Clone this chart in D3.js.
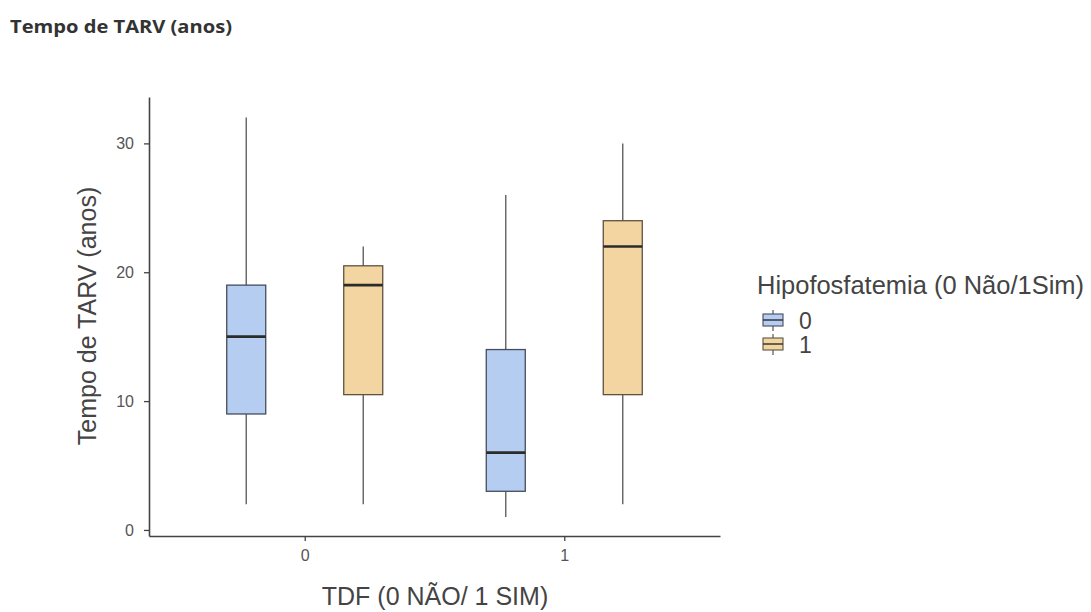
<!DOCTYPE html>
<html>
<head>
<meta charset="utf-8">
<script src="https://cdn.jsdelivr.net/npm/d3@7"></script>
<style>
  body { margin: 0; background: #fff; }
  svg { display: block; }
</style>
</head>
<body>
<svg id="chart" width="1091" height="612"></svg>
<script>
const tdfGroups = ['0', '1'];
const hipoLevels = ['0', '1'];
// [tdf, hipo, whiskerLow, q1, median, q3, whiskerHigh]
const boxStats = [
    ['0', '0', 2, 9, 15, 19, 32],
    ['0', '1', 2, 10.5, 19, 20.5, 22],
    ['1', '0', 1, 3, 6, 14, 26],
    ['1', '1', 2, 10.5, 22, 24, 30]
];
const yTicks = [0, 10, 20, 30];

const svg = d3.select('#chart');
const plotLeft = 149, plotRight = 720, plotTop = 97, plotBottom = 536;
const font = 'Liberation Sans, Arial, sans-serif';

const fill = d3.scaleOrdinal().domain(hipoLevels).range(['#b4cdf1', '#f2d5a0']);
const stroke = d3.scaleOrdinal().domain(hipoLevels).range(['#454c5c', '#5e5340']);

const x = d3.scalePoint().domain(tdfGroups).range([plotLeft, plotRight]).padding(0.6);
const dodge = d3.scalePoint().domain(hipoLevels).range([-58.5, 58.5]);
const bw = 39;
const y = d3.scaleLinear().domain([-0.47, 33.6]).range([plotBottom, plotTop]);

svg.append('text')
    .attr('x', 10).attr('y', 33)
    .attr('font-family', 'Open Sans, Noto Sans, sans-serif')
    .attr('font-weight', 'bold')
    .attr('font-size', 18)
    .attr('textLength', 222).attr('lengthAdjust', 'spacingAndGlyphs')
    .attr('fill', '#333')
    .text('Tempo de TARV (anos)');

// axes
const yAxis = svg.append('g')
    .attr('transform', `translate(${plotLeft},0)`)
    .call(d3.axisLeft(y).tickValues(yTicks).tickSize(5).tickPadding(10).tickSizeOuter(0));
const xAxis = svg.append('g')
    .attr('transform', `translate(0,${plotBottom})`)
    .call(d3.axisBottom(x).tickSize(5).tickPadding(9).tickSizeOuter(0));
[yAxis, xAxis].forEach(g => {
    g.select('.domain').attr('stroke', '#444').attr('stroke-width', 1.6);
    g.selectAll('.tick line').attr('stroke', '#444').attr('stroke-width', 1.3);
    g.selectAll('.tick text')
        .attr('font-family', font)
        .attr('font-size', 16).attr('fill', '#555');
});

svg.append('text')
    .attr('transform', `translate(96,${316}) rotate(-90)`)
    .attr('text-anchor', 'middle')
    .attr('font-family', font)
    .attr('font-size', 25).attr('fill', '#444')
    .text('Tempo de TARV (anos)');

svg.append('text')
    .attr('x', 435).attr('y', 605)
    .attr('text-anchor', 'middle')
    .attr('font-family', font)
    .attr('font-size', 25).attr('fill', '#444')
    .text('TDF (0 NÃO/ 1 SIM)');

// boxes
const boxes = svg.append('g').selectAll('g')
    .data(boxStats)
    .join('g')
    .attr('transform', d => `translate(${x(d[0]) + dodge(d[1])},0)`);

boxes.append('line')
    .attr('x1', 0).attr('x2', 0)
    .attr('y1', d => y(d[2])).attr('y2', d => y(d[6]))
    .attr('stroke', '#555').attr('stroke-width', 1.3);
boxes.append('rect')
    .attr('x', -bw / 2).attr('width', bw)
    .attr('y', d => y(d[5])).attr('height', d => y(d[3]) - y(d[5]))
    .attr('fill', d => fill(d[1]))
    .attr('stroke', d => stroke(d[1])).attr('stroke-width', 1.3);
boxes.append('line')
    .attr('x1', -bw / 2).attr('x2', bw / 2)
    .attr('y1', d => y(d[4])).attr('y2', d => y(d[4]))
    .attr('stroke', '#2b2b2b').attr('stroke-width', 2.6);

// legend
const legend = svg.append('g').attr('transform', 'translate(757,0)');
legend.append('text')
    .attr('x', 0).attr('y', 294)
    .attr('font-family', font)
    .attr('font-size', 25).attr('fill', '#444')
    .attr('textLength', 327).attr('lengthAdjust', 'spacingAndGlyphs')
    .text('Hipofosfatemia (0 Não/1Sim)');
const keys = legend.selectAll('g.key')
    .data(hipoLevels)
    .join('g')
    .attr('class', 'key')
    .attr('transform', (d, i) => `translate(6,${320 + i * 24})`);
keys.append('line')
    .attr('x1', 10).attr('x2', 10).attr('y1', -10).attr('y2', 11)
    .attr('stroke', '#555').attr('stroke-width', 1.2);
keys.append('rect')
    .attr('x', 0).attr('y', -6).attr('width', 20).attr('height', 12)
    .attr('fill', d => fill(d)).attr('stroke', d => stroke(d)).attr('stroke-width', 1.1);
keys.append('line')
    .attr('x1', 0).attr('x2', 20).attr('y1', 0).attr('y2', 0)
    .attr('stroke', '#2b2b2b').attr('stroke-width', 1.4);
keys.append('text')
    .attr('x', 36).attr('y', 9)
    .attr('font-family', font)
    .attr('font-size', 23).attr('fill', '#444')
    .text(d => d);
</script>
</body>
</html>
